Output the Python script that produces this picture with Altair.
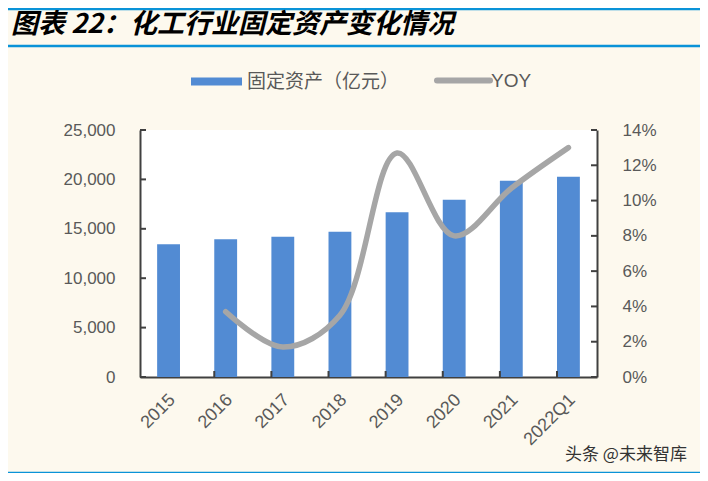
import altair as alt
import pandas as pd

categories = ["2015", "2016", "2017", "2018", "2019", "2020", "2021", "2022Q1"]
assets = [13430, 13940, 14200, 14710, 16670, 17950, 19870, 20270]
yoy_cats = ["2016", "2017", "2018", "2019", "2020", "2021", "2022Q1"]
yoy = [0.037, 0.017, 0.035, 0.127, 0.080, 0.107, 0.130]
left_ticks = [0, 5000, 10000, 15000, 20000, 25000]
right_ticks = [0, 0.02, 0.04, 0.06, 0.08, 0.10, 0.12, 0.14]
x_tick_cats = ["2016", "2017", "2018", "2019", "2020", "2021", "2022Q1"]

W, H = 457, 247
BLUE_LINE = "#0A93D8"
BAR = "#528BD3"
GRAY = "#A6A6A6"
AXIS = "#404040"
LABEL = "#595959"
FONT = "Liberation Sans"
CJK = "Noto Sans CJK SC"

bars_df = pd.DataFrame({"cat": categories, "value": assets})
yoy_df = pd.DataFrame({"cat": yoy_cats, "yoy": yoy})
lt_df = pd.DataFrame({"value": left_ticks})
rt_df = pd.DataFrame({"yoy": right_ticks})
xt_df = pd.DataFrame({"cat": x_tick_cats})
one = pd.DataFrame({"k": [0]})

x_axis = alt.Axis(labelAngle=-45, labelAlign="right", labelBaseline="middle",
                  labelPadding=20, labelOffset=4, ticks=False, domainColor=AXIS,
                  domainWidth=2, labelOverlap=False,
                  labelColor=LABEL, labelFontSize=18, labelFont=FONT)
x_scale = alt.Scale(paddingInner=0.6, paddingOuter=0.3)
yl_axis = alt.Axis(values=left_ticks, format=",d", ticks=False, labelPadding=25,
                   domainColor=AXIS, domainWidth=2, grid=False, labelOverlap=False,
                   labelColor=LABEL, labelFontSize=17, labelFont=FONT)
yl_scale = alt.Scale(domain=[0, 25000], nice=False)
yr_axis = alt.Axis(values=right_ticks, format=".0%", ticks=False, labelPadding=25,
                   orient="right", domainColor=AXIS, domainWidth=2, grid=False,
                   labelOverlap=False, labelFlush=False,
                   labelColor=LABEL, labelFontSize=17, labelFont=FONT)
yr_scale = alt.Scale(domain=[0, 0.14], nice=False)

bars = alt.Chart(bars_df).mark_bar(color=BAR).encode(
    x=alt.X("cat:N", sort=categories, title=None, scale=x_scale, axis=x_axis),
    y=alt.Y("value:Q", title=None, scale=yl_scale, axis=yl_axis),
)
lticks = alt.Chart(lt_df).mark_rule(color=AXIS, strokeWidth=2).encode(
    y=alt.Y("value:Q", title=None, scale=yl_scale, axis=yl_axis),
    x=alt.value(0), x2=alt.value(6))
xticks = alt.Chart(xt_df).mark_rule(color=AXIS, strokeWidth=2).encode(
    x=alt.X("cat:N", sort=categories, bandPosition=0, title=None, scale=x_scale, axis=x_axis),
    y=alt.value(H), y2=alt.value(H - 6))

# decorations
def hline(y, x1=-132, x2=560, color=BLUE_LINE, w=2.5):
    return alt.Chart(one).mark_rule(color=color, strokeWidth=w).encode(
        x=alt.value(x1), x2=alt.value(x2), y=alt.value(y))

title = alt.Chart(one).mark_text(
    text="图表 22：化工行业固定资产变化情况", font=CJK, fontSize=27, fontStyle="italic",
    fontWeight="bold", color="#000000", align="left", baseline="middle").encode(
    x=alt.value(-129), y=alt.value(-105))
leg_bar = alt.Chart(one).mark_rule(color=BAR, strokeWidth=8).encode(
    x=alt.value(51), x2=alt.value(102), y=alt.value(-48.5))
leg_bar_t = alt.Chart(one).mark_text(
    text="固定资产（亿元）", font=CJK, fontSize=19, color=LABEL, align="left",
    baseline="middle").encode(x=alt.value(107), y=alt.value(-48))
leg_line = alt.Chart(one).mark_rule(color=GRAY, strokeWidth=6, strokeCap="round").encode(
    x=alt.value(297), x2=alt.value(350), y=alt.value(-49.5))
leg_line_t = alt.Chart(one).mark_text(
    text="YOY", font=FONT, fontSize=19, color=LABEL, align="left",
    baseline="middle").encode(x=alt.value(351), y=alt.value(-49))
wm = alt.Chart(one).mark_text(
    text="头条 @未来智库", font=CJK, fontSize=17, color="#333333", align="left",
    baseline="middle").encode(x=alt.value(425), y=alt.value(325))

layer_a = alt.layer(bars, lticks, xticks, hline(-121), hline(-84), hline(343),
                    title, leg_bar, leg_bar_t, leg_line, leg_line_t, wm)

line = alt.Chart(yoy_df).mark_line(color=GRAY, strokeWidth=5.5, interpolate="catmull-rom",
                                   strokeCap="round").encode(
    x=alt.X("cat:N", sort=categories, title=None, scale=x_scale, axis=x_axis),
    y=alt.Y("yoy:Q", title=None, scale=yr_scale, axis=yr_axis),
)
rticks = alt.Chart(rt_df).mark_rule(color=AXIS, strokeWidth=2).encode(
    y=alt.Y("yoy:Q", title=None, scale=yr_scale, axis=yr_axis),
    x=alt.value(W - 6), x2=alt.value(W))

layer_b = alt.layer(line, rticks)

chart = alt.layer(layer_a, layer_b).resolve_scale(y="independent").properties(
    width=W, height=H,
    autosize=alt.AutoSizeParams(type="none"),
    padding={"left": 132, "top": 122, "right": 103, "bottom": 96},
    background="#FDF9EE",
).configure_view(stroke=None, fill="#FFFFFF")

chart.save("out.html", embed_options={"renderer": "svg", "actions": False})
